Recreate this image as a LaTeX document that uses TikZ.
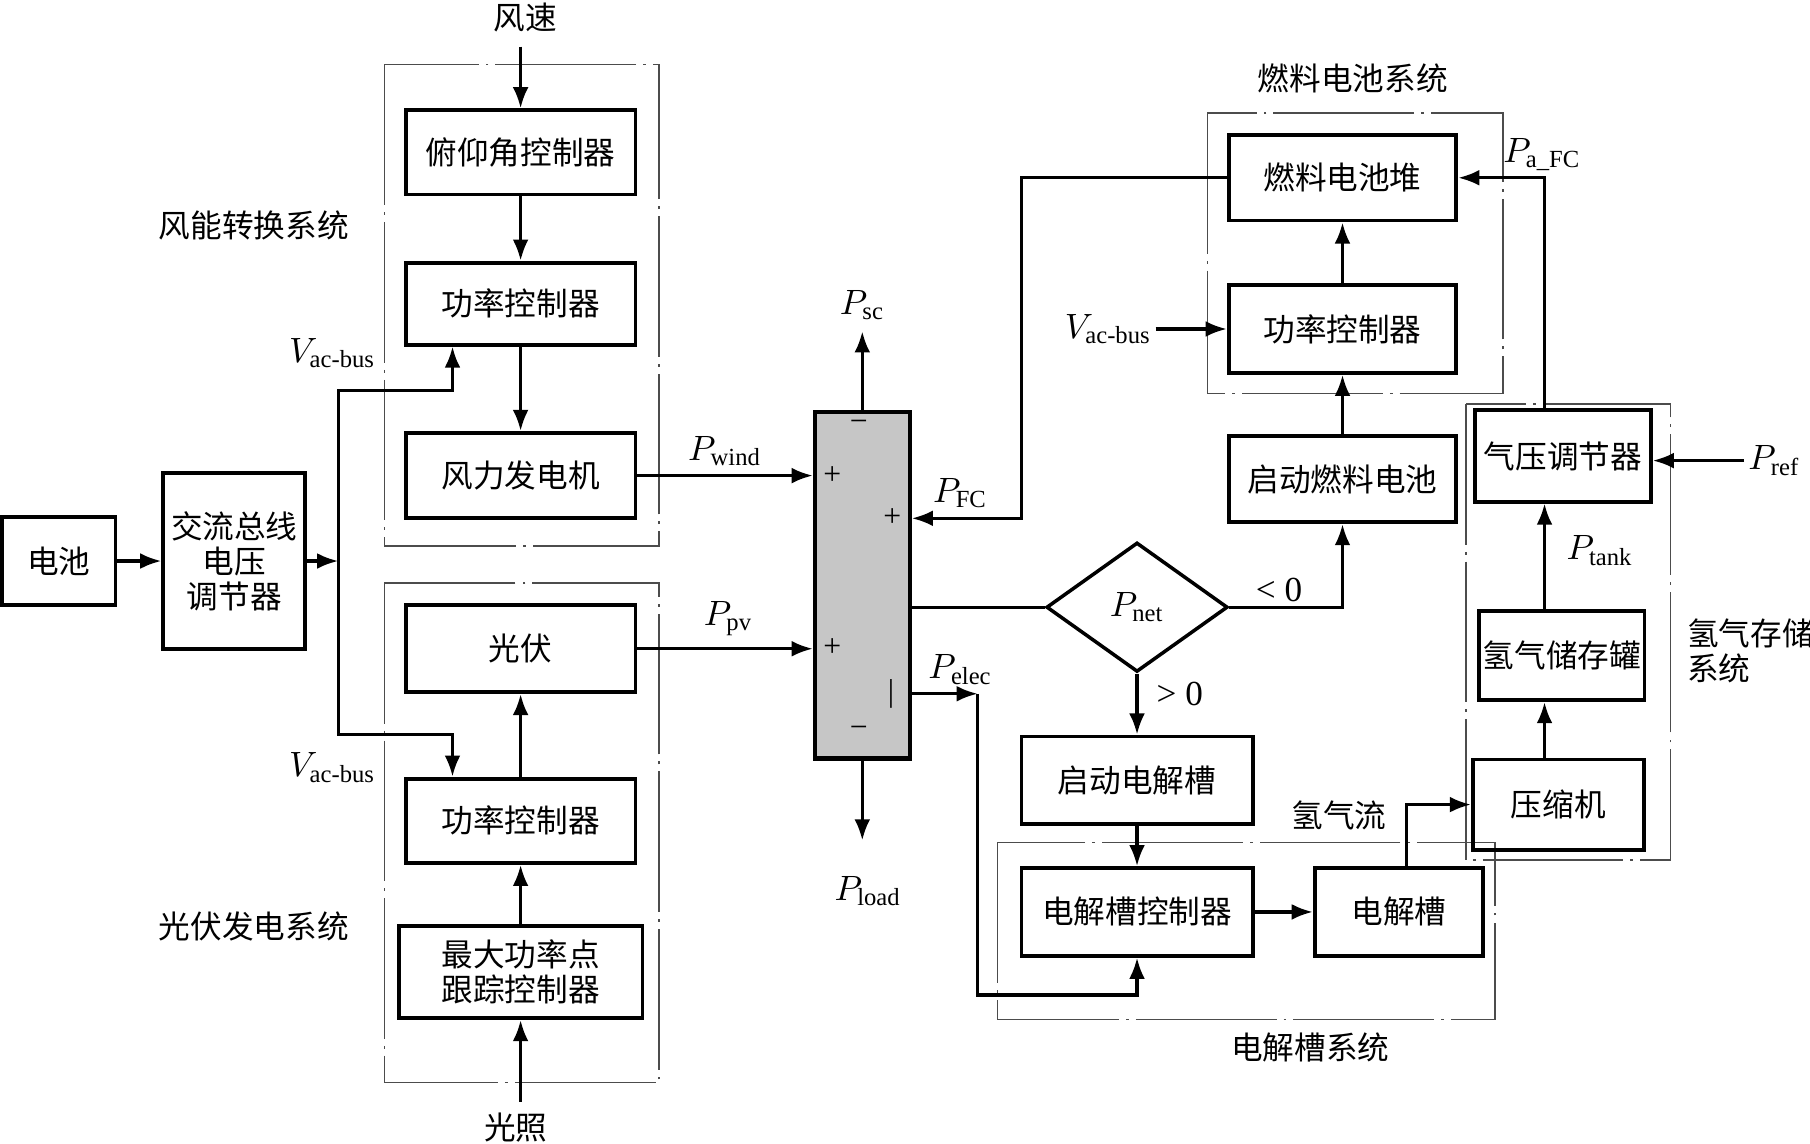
\documentclass[tikz,border=0pt]{standalone}
\usepackage{fontspec}
\usepackage{amsmath}
\setmainfont{Liberation Serif}
\newfontfamily\cjk{Noto Sans CJK SC}
\usetikzlibrary{shapes.geometric,arrows.meta}
\begin{document}
\begin{tikzpicture}[x=0.011543cm,y=-0.011543cm,
  blk/.style={draw,line width=1.1pt,align=center,inner sep=1pt,font=\cjk\fontsize{9}{10}\selectfont},
  sys/.style={draw=black!70,line width=0.4pt,dash pattern=on 40pt off 2pt on 0.8pt off 2pt},
  flow/.style={line width=0.9pt,-{Latex[length=6pt,width=4.5pt]}},
  wire/.style={line width=0.9pt},
  lbl/.style={inner sep=1pt,font=\fontsize{10}{12}\selectfont},
  ttl/.style={inner sep=1pt,align=left,font=\cjk\fontsize{9}{10}\selectfont},
  sgn/.style={inner sep=0pt,font=\fontsize{9}{10}\selectfont}]
\useasboundingbox (0,0) rectangle (1568,991);
\draw[sys] (333,56) rectangle (571,473);
\draw[sys] (333,505) rectangle (571,938);
\draw[sys] (1046,98) rectangle (1302,341);
\draw[sys] (864,730) rectangle (1295,883);
\draw[sys] (1270,350) rectangle (1447,745);
\node[blk,minimum width=1.131cm,minimum height=0.877cm] (bat) at (51,486) {电池};
\node[blk,minimum width=1.420cm,minimum height=1.766cm] (reg) at (203,486) {交流总线\\电压\\调节器};
\node[blk,minimum width=2.297cm,minimum height=0.843cm] (pitch) at (451,132) {俯仰角控制器};
\node[blk,minimum width=2.297cm,minimum height=0.820cm] (wpc) at (451,263) {功率控制器};
\node[blk,minimum width=2.297cm,minimum height=0.854cm] (wgen) at (451,412) {风力发电机};
\node[blk,minimum width=2.297cm,minimum height=0.866cm] (pv) at (451,562) {光伏};
\node[blk,minimum width=2.297cm,minimum height=0.843cm] (ppc) at (451,711) {功率控制器};
\node[blk,minimum width=2.436cm,minimum height=0.923cm] (mppt) at (451,842) {最大功率点\\跟踪控制器};
\node[draw,line width=1.2pt,fill=gray!45,minimum width=0.947cm,minimum height=3.463cm] (bus) at (747,507) {};
\node[draw,diamond,line width=1pt,minimum width=1.812cm,minimum height=1.293cm,inner sep=0pt,font=\fontsize{10}{12}\selectfont] (net) at (985,526) {$P_{\text{net}}$};
\node[blk,minimum width=2.274cm,minimum height=0.854cm] (fcs) at (1163,154) {燃料电池堆};
\node[blk,minimum width=2.274cm,minimum height=0.877cm] (fpc) at (1163,285) {功率控制器};
\node[blk,minimum width=2.274cm,minimum height=0.862cm] (fst) at (1163,415) {启动燃料电池};
\node[blk,minimum width=2.309cm,minimum height=0.877cm] (est) at (985,676) {启动电解槽};
\node[blk,minimum width=2.309cm,minimum height=0.877cm] (ectl) at (985,790) {电解槽控制器};
\node[blk,minimum width=1.685cm,minimum height=0.877cm] (ely) at (1212,790) {电解槽};
\node[blk,minimum width=1.708cm,minimum height=0.900cm] (comp) at (1350,697) {压缩机};
\node[blk,minimum width=1.651cm,minimum height=0.889cm] (tank) at (1353,568) {氢气储存罐};
\node[blk,minimum width=1.755cm,minimum height=0.912cm] (preg) at (1354,395) {气压调节器};
\foreach \x/\y/\s [count=\i] in {744/369/−,721/412/+,773/448/+,721/561/+,772/601/|,744/634/−}
  \node[sgn] (sg\i) at (\x,\y) {\s};
\node[lbl] (pw) at (628,391) {$P_{\text{wind}}$};
\node[lbl] (ppvl) at (631,536) {$P_{\text{pv}}$};
\node[lbl] (psc) at (747,264) {$P_{\text{sc}}$};
\node[lbl] (pld) at (752,772) {$P_{\text{load}}$};
\node[lbl] (pfc) at (832,427) {$P_{\text{FC}}$};
\node[lbl] (pel) at (832,580) {$P_{\text{elec}}$};
\node[lbl] (lt) at (1108,511) {< 0};
\node[lbl] (gt) at (1022,601) {> 0};
\node[lbl] (pafc) at (1336,134) {$P_{\text{a\_FC}}$};
\node[lbl] (ptk) at (1386,477) {$P_{\text{tank}}$};
\node[lbl] (prf) at (1537,399) {$P_{\text{ref}}$};
\node[lbl] (va1) at (288,306) {$V_{\text{ac-bus}}$};
\node[lbl] (va2) at (288,665) {$V_{\text{ac-bus}}$};
\node[lbl] (va3) at (960,285) {$V_{\text{ac-bus}}$};
\node[ttl] (ws) at (455,15) {风速};
\node[ttl] (ill) at (447,977) {光照};
\node[ttl] (t1) at (220,195) {风能转换系统};
\node[ttl] (t2) at (220,803) {光伏发电系统};
\node[ttl] (t3) at (1172,68) {燃料电池系统};
\node[ttl] (t4) at (1135,907) {电解槽系统};
\node[ttl,anchor=west] (t5) at (1458,564) {氢气存储\\系统};
\node[ttl] (h2f) at (1160,706) {氢气流};
\coordinate (jn) at (293,486);
\coordinate (vw) at (392,338);
\coordinate (vp) at (392,636);
\coordinate (sc) at (747,287);
\coordinate (ld) at (747,728);
\coordinate (fcx) at (885,449);
\coordinate (pe) at (847,601);
\coordinate (pb) at (847,862);
\coordinate (hx) at (1338,0);
\draw[flow] (bat) -- (reg);
\draw[flow] (reg) -- (jn);
\draw[flow] (jn) |- (vw) -- (vw |- wpc.south);
\draw[flow] (jn) |- (vp) -- (vp |- ppc.north);
\draw[flow,shorten <=3pt] (ws.south -| pitch.north) -- (pitch.north);
\draw[flow] (pitch) -- (wpc);
\draw[flow] (wpc) -- (wgen);
\draw[flow,shorten <=2pt] (ill.north -| mppt.south) -- (mppt.south);
\draw[flow] (mppt) -- (ppc);
\draw[flow] (ppc) -- (pv);
\draw[flow] (wgen.east) -- (wgen.east -| bus.west);
\draw[flow] (pv.east) -- (pv.east -| bus.west);
\draw[flow] (bus.north) -- (sc);
\draw[flow] (bus.south) -- (ld);
\draw[flow] (fcs.west) -| (fcx) -- (fcx -| bus.east);
\draw[wire] (bus.east |- net.west) -- (net.west);
\draw[flow] (net.east) -| (fst.south);
\draw[flow] (net.south) -- (est.north);
\draw[flow] (bus.east |- pe) -- (pe);
\draw[flow] (pe) -- (pb) -| (ectl.south);
\draw[flow] (est) -- (ectl);
\draw[flow] (ectl) -- (ely);
\draw[flow] ([xshift=2pt]ely.north) |- (comp.west);
\draw[flow] (comp.north -| hx) -- (tank.south -| hx);
\draw[flow] (tank.north -| hx) -- (preg.south -| hx);
\draw[flow] (preg.north -| hx) |- (fcs.east);
\draw[flow] (prf.west) -- (prf.west -| preg.east);
\draw[flow] (fst) -- (fpc);
\draw[flow] (fpc) -- (fcs);
\draw[flow] (va3.east |- fpc.west) -- (fpc.west);
\end{tikzpicture}
\end{document}
